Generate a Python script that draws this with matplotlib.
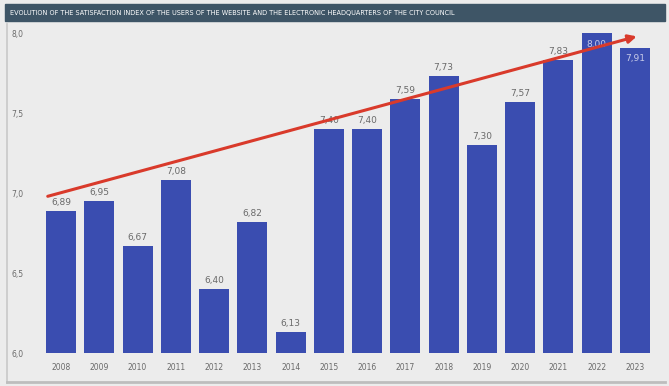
import matplotlib.pyplot as plt
from matplotlib.patches import Rectangle

# Data
years = ['2008', '2009', '2010', '2011', '2012', '2013', '2014', '2015',
         '2016', '2017', '2018', '2019', '2020', '2021', '2022', '2023']
index_values = [6.89, 6.95, 6.67, 7.08, 6.40, 6.82, 6.13, 7.40,
                7.40, 7.59, 7.73, 7.30, 7.57, 7.83, 8.00, 7.91]
y_ticks = [6.0, 6.5, 7.0, 7.5, 8.0]
# hand-drawn trend arrow: (bar position, value) at start and end
trend_start = (-0.35, 6.98)
trend_end = (15.05, 7.98)

title = ('EVOLUTION OF THE SATISFACTION INDEX OF THE USERS OF THE WEBSITE '
         'AND THE ELECTRONIC HEADQUARTERS OF THE CITY COUNCIL')

bar_color = '#3a4db0'
bg_color = '#ececec'
text_color = '#6a6a6a'

fig = plt.figure(figsize=(6.69, 3.86), dpi=100)
fig.patch.set_facecolor(bg_color)

W, H = 669, 386
# axes placed in pixels
left, right, bottom, top = 42, 654, 353, 30
ax = fig.add_axes([left / W, 1 - bottom / H, (right - left) / W, (bottom - top) / H])
ax.set_facecolor(bg_color)

x = list(range(len(years)))
ax.bar(x, index_values, width=0.79, color=bar_color, bottom=0, zorder=2)
ax.set_ylim(6.0, 8.02)
ax.set_xlim(-0.5, len(years) - 0.5)

for s in ax.spines.values():
    s.set_visible(False)
ax.set_yticks(y_ticks)
ax.set_yticklabels([f'{t:.1f}'.replace('.', ',') for t in y_ticks])
ax.set_xticks(x)
ax.set_xticklabels(years)
ax.tick_params(length=0, labelsize=5.5, labelcolor=text_color)
ax.tick_params(axis='y', pad=13)
ax.tick_params(axis='x', pad=7)

for xi, v in zip(x, index_values):
    label = f'{v:.2f}'.replace('.', ',')
    if v >= 7.9:
        ax.text(xi, v - 0.04, label, ha='center', va='top', fontsize=6.5,
                color='#c8cbe8', zorder=3)
    else:
        ax.text(xi, v + 0.025, label, ha='center', va='bottom', fontsize=6.5,
                color=text_color, zorder=3)

ax.annotate('', xy=trend_end, xytext=trend_start,
            arrowprops=dict(arrowstyle='-|>', color='#d93a2b', lw=2.2,
                            mutation_scale=12, shrinkA=0, shrinkB=0),
            zorder=4)

# title banner
fig.patches.append(Rectangle((5 / W, 1 - 21 / H), 660 / W, 17 / H,
                             transform=fig.transFigure, color='#3e5566', zorder=0))
fig.text(10 / W, 1 - 12.5 / H, title, color='white', fontsize=4.7,
         family=['Liberation Sans Narrow', 'DejaVu Sans'], va='center', ha='left')

# frame lines around the panel
fig.add_artist(plt.Line2D([7 / W, 7 / W], [1 - 383 / H, 1 - 24 / H],
                          transform=fig.transFigure, color='#c8c8c8', lw=1.2))
fig.add_artist(plt.Line2D([7 / W, 665 / W], [1 - 382 / H, 1 - 382 / H],
                          transform=fig.transFigure, color='#bdbdbd', lw=2))

fig.savefig('out.png', dpi=100, facecolor=fig.get_facecolor())
